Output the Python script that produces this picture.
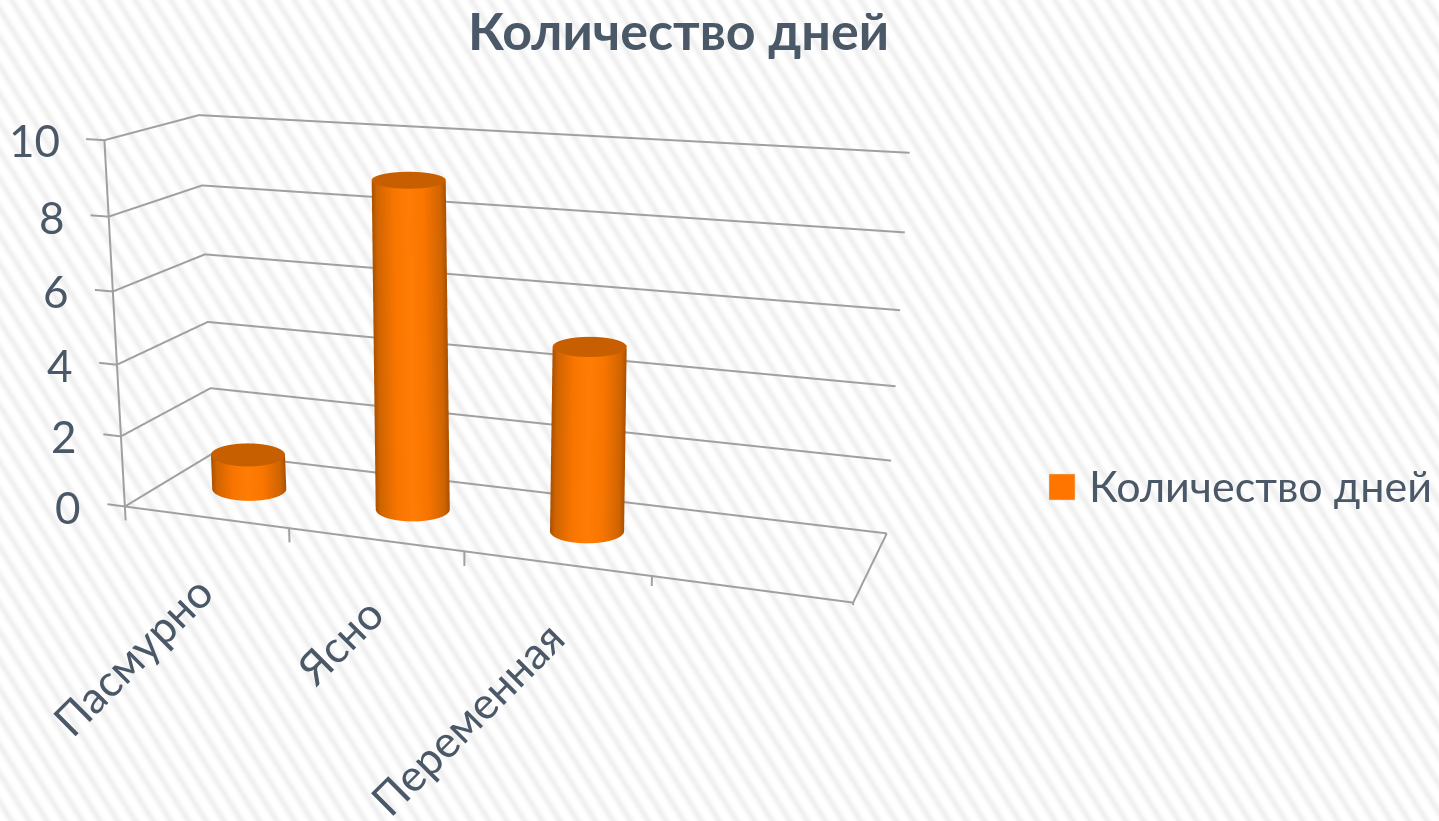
import base64
import numpy as np, plotly.graph_objects as go

categories = ["Пасмурно", "Ясно", "Переменная"]
values = [1, 9, 5]
z_ticks = [0, 2, 4, 6, 8, 10]
series_name = "Количество дней"
TEXT = "#4a5868"; GRID = "#a0a0a0"
W, H = 1439, 821

# camera and box proportions of the oblique 3D view
E = np.array([0.4199, -0.9817, 0.0854])
C = np.array([0.228, 0.0603, -0.0716])
U = np.array([-0.0598, 0.138, 0.9886])
SY, SZ, K, M, N = 0.1098, 0.3928, 0.0272, 0.0417, -0.0316

xr = [-.5, 4.5]; yr = [-.5, 1.5]; zr = [-1, 11]
asp = dict(x=1, y=SY*2, z=SZ*1.2)
KX = K/0.2; ZY = M/(SZ/10); ZX = (N/4)/(SZ/10)

def tr(x, y, z):
    """Oblique box: the reference's Excel-style 3D view is not an orthogonal box."""
    return x+KX*(y-.5), y, z+ZY*(y-.5)+ZX*(x-2)

fw = (C-E)/np.linalg.norm(C-E)
rt = np.cross(fw, U); rt /= np.linalg.norm(rt)
up = np.cross(rt, fw)
F = (H/2)/np.tan(np.pi/8)
def px(x, y, z):
    P = np.array([(x-2)*.2, (y-.5)*SY, (z-5)*SZ/10])-E
    d = P@fw
    return np.array([F*(P@rt)/d, F*(P@up)/d])

lx, ly, lz = [], [], []
def seg(*pts):
    for a, b, c_ in pts:
        X, Y, Z = tr(a, b, c_)
        lx.append(X); ly.append(Y); lz.append(Z)
    lx.append(None); ly.append(None); lz.append(None)
for t in z_ticks:
    seg((-.11, 0, t), (0, 0, t), (0, 1, t), (4, 1, t))
seg((0, 0, 0), (0, 0, 10))
seg((0, 0, 0), (4, 0, 0), (4, 1, 0))
for i in range(5):
    seg((i, 0, 0), (i, 0, -.4))
fig = go.Figure(go.Scatter3d(x=lx, y=ly, z=lz, mode='lines', line=dict(color=GRID, width=4), hoverinfo='skip', showlegend=False))

# cylinders: ring offsets solved so each ring is a level ellipse on screen
th = np.linspace(0, 2*np.pi, 121)
DEPTH = .38
def ring(cx, cy, cz):
    e = 1e-3
    c0 = px(cx, cy, cz)
    J = np.column_stack([(px(cx+e, cy, cz)-c0)/e, (px(cx, cy+e, cz)-c0)/e, (px(cx, cy, cz+e)-c0)/e])
    dy = DEPTH*np.sin(th)
    b = 12-.39*cz
    target = np.vstack([37*np.cos(th), b*np.sin(th)])-np.outer(J[:, 1], dy)
    sol = np.linalg.solve(J[:, [0, 2]], target)
    return cx+sol[0], cy+dy, cz+sol[1]

side = [[0, '#a85000'], [.08, '#d06400'], [.3, '#f87500'], [.5, '#ff7d05'], [.7, '#f87500'], [.92, '#d06400'], [1, '#a85000']]
lite = dict(ambient=1, diffuse=0, specular=0, fresnel=0, roughness=1)
for i, v in enumerate(values):
    cx, cy, cz = tr(i+.5, .5, 0)
    xb, yb, zb = ring(cx, cy, cz)
    xt, yt, zt = ring(cx, cy, cz+v)
    fig.add_trace(go.Surface(x=np.array([xb, xt]), y=np.array([yb, yt]), z=np.array([zb, zt]),
                             surfacecolor=np.array([np.cos(th)]*2), colorscale=side, cmin=-1, cmax=1,
                             showscale=False, lighting=lite, hoverinfo='skip'))
    w = np.array([0, 1.])[:, None]
    xc = cx+w*(xt-cx); yc = cy+w*(yt-cy); zc = cz+v+w*(zt-cz-v)
    fig.add_trace(go.Surface(x=xc, y=yc, z=zc, surfacecolor=np.zeros_like(xc),
                             colorscale=[[0, '#c75e00'], [1, '#c75e00']], cmin=0, cmax=1,
                             showscale=False, lighting=lite, hoverinfo='skip'))

def at(x, y, z):
    X, Y, Z = tr(x, y, z)
    return dict(x=X, y=Y, z=Z)
notes = [dict(**at(0, 0, t), text=str(t), showarrow=False, xanchor='right', yanchor='middle', xshift=-42,
              font=dict(size=44, color=TEXT, family='Lato')) for t in z_ticks]
notes += [dict(**at(i+.5, 0, 0), text=cname, showarrow=False, textangle=-45, xanchor='right', yanchor='top',
               xshift=20, yshift=-45, font=dict(size=44, color=TEXT, family='Lato')) for i, cname in enumerate(categories)]

svg = ('<svg xmlns="http://www.w3.org/2000/svg" width="1439" height="821"><defs>'
       '<linearGradient id="g" x1="0" x2="1" y1="0" y2="0"><stop offset="0" stop-color="#fff"/><stop offset=".3" stop-color="#fff"/><stop offset=".65" stop-color="#eee"/><stop offset="1" stop-color="#fff"/></linearGradient>'
       '<pattern id="p" width="15" height="15" patternUnits="userSpaceOnUse" patternTransform="rotate(-32)"><rect width="15" height="15" fill="url(#g)"/></pattern></defs>'
       '<rect width="1439" height="821" fill="url(#p)"/></svg>')
bg = "data:image/svg+xml;base64,"+base64.b64encode(svg.encode()).decode()

fig.update_layout(
    margin=dict(l=0, r=0, t=0, b=0), width=W, height=H, showlegend=False,
    paper_bgcolor='rgba(0,0,0,0)', plot_bgcolor='rgba(0,0,0,0)',
    images=[dict(source=bg, xref='paper', yref='paper', x=0, y=1, sizex=1, sizey=1, sizing='stretch',
                 xanchor='left', yanchor='top', layer='below')],
    scene=dict(domain=dict(x=[0, 1], y=[0, 1]), aspectmode='manual', aspectratio=asp, bgcolor='rgba(0,0,0,0)',
               annotations=notes,
               xaxis=dict(visible=False, range=xr), yaxis=dict(visible=False, range=yr), zaxis=dict(visible=False, range=zr),
               camera=dict(eye=dict(zip('xyz', E.tolist())), center=dict(zip('xyz', C.tolist())), up=dict(zip('xyz', U.tolist())))),
    shapes=[dict(type='rect', xref='paper', yref='paper', x0=1049/W, x1=1075/W, y0=1-500/H, y1=1-474/H,
                 fillcolor='#ff7500', line=dict(color='#d9d9d9', width=.5))],
    annotations=[
        dict(text=series_name, x=678/W, y=1-30/H, xref='paper', yref='paper', showarrow=False, yanchor='middle',
             font=dict(size=52, color=TEXT, family='Lato', weight='bold')),
        dict(text=series_name, x=1087/W, y=1-485/H, xref='paper', yref='paper', showarrow=False, xanchor='left', yanchor='middle',
             font=dict(size=43, color=TEXT, family='Lato'))])
fig.write_html("out.html", post_script="document.body.style.margin='0';", config=dict(displayModeBar=False))
